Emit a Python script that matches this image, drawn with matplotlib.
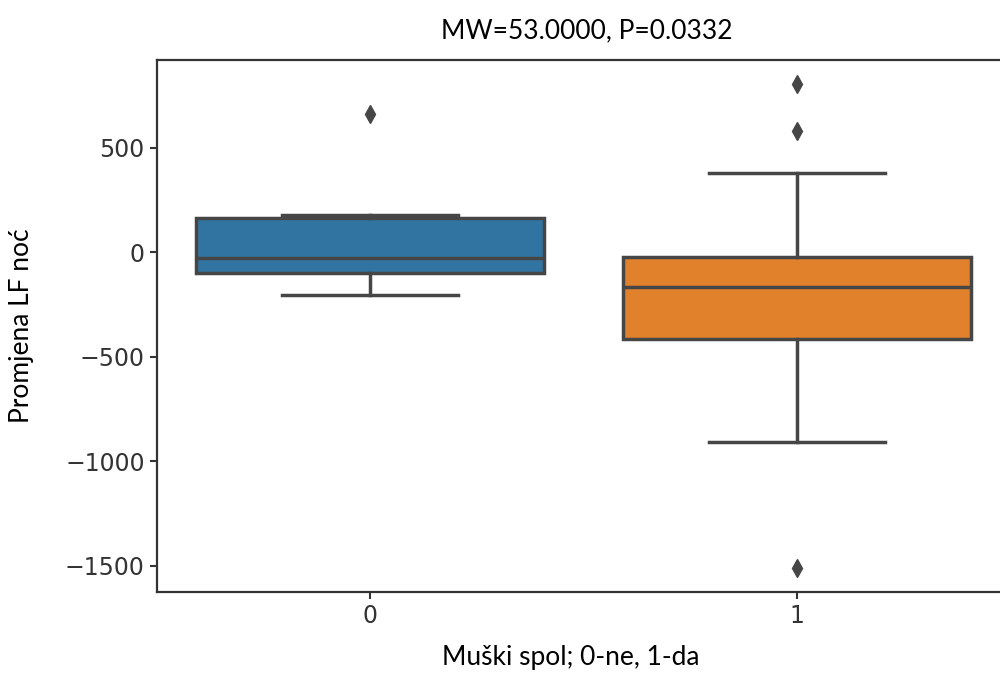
import matplotlib
matplotlib.use("Agg")
import matplotlib.pyplot as plt

# Data
groups = ["0", "1"]
q1 = [-100, -416]
median = [-29, -167]
q3 = [162, -24]
whisker_low = [-205, -908]
whisker_high = [177, 378]
outliers = [[660], [803, 578, -1510]]
box_colors = ["#3274A1", "#E1812C"]

title_text = "MW=53.0000, P=0.0332"
xlabel_text = "Muški spol; 0-ne, 1-da"
ylabel_text = "Promjena LF noć"
yticks = [500, 0, -500, -1000, -1500]

fig = plt.figure(figsize=(10, 6.74), dpi=100)
ax = fig.add_axes([0.1565, 0.1217, 0.854, 0.789])

stats = []
for i, g in enumerate(groups):
    stats.append(dict(label=g, q1=q1[i], med=median[i], q3=q3[i],
                      whislo=whisker_low[i], whishi=whisker_high[i],
                      fliers=outliers[i]))

line_c = "#464646"
lw = 2.5
bp = ax.bxp(stats, positions=range(len(groups)), widths=0.815,
            patch_artist=True, showfliers=True,
            boxprops=dict(edgecolor=line_c, linewidth=lw),
            medianprops=dict(color=line_c, linewidth=lw),
            whiskerprops=dict(color=line_c, linewidth=lw),
            capprops=dict(color=line_c, linewidth=lw),
            flierprops=dict(marker="d", markerfacecolor=line_c,
                            markeredgecolor=line_c, markersize=9))
for patch, c in zip(bp["boxes"], box_colors):
    patch.set_facecolor(c)
for cap in bp["caps"]:
    x = cap.get_xdata()
    mid = (x[0] + x[1]) / 2
    cap.set_xdata([mid - 0.206, mid + 0.206])

ax.set_xlim(-0.5, 1.5)
ax.set_ylim(-1625, 918)
ax.set_yticks(yticks)
ax.set_xticks(range(len(groups)))
ax.set_xticklabels(groups)
ax.tick_params(labelsize=17, length=5, width=1.5, color="#333333",
               labelcolor="#333333")
for s in ax.spines.values():
    s.set_linewidth(1.6)
    s.set_color("#333333")

font = "Lato"
fig.text(0.587, 0.955, title_text, ha="center", va="center",
         fontsize=19, family=font, color="black")
fig.text(0.571, 0.024, xlabel_text, ha="center", va="center",
         fontsize=19, family=font, color="black")
fig.text(0.022, 0.517, ylabel_text, ha="center", va="center",
         rotation=90, fontsize=19, family=font, color="black")

fig.savefig("out.png", dpi=100)
